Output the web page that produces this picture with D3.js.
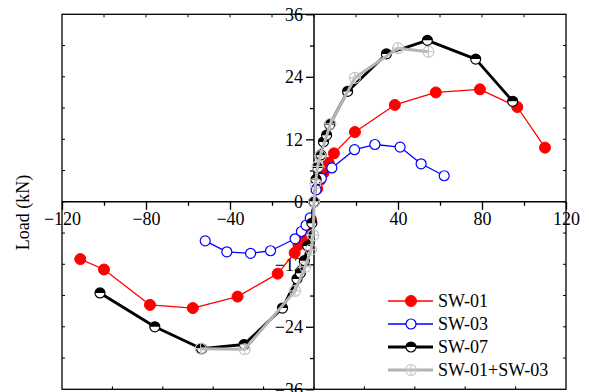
<!DOCTYPE html>
<html><head><meta charset="utf-8">
<script src="https://cdn.jsdelivr.net/npm/d3@7"></script>
<style>html,body{margin:0;padding:0;background:#fff;}svg{display:block;}</style>
</head><body>
<svg id="chart" width="589" height="392"></svg>
<script>
// ---- data ----
const sw01Disp = [-111.3,-100,-78.1,-57.7,-36.4,-17.3,-9.2,-7.4,-5.9,-3.7,-1.4,0,1.5,3,4.5,7,9.5,19.5,38.5,58,79,96.8,110];
const sw01Load = [-11,-13,-19.8,-20.4,-18.2,-13.8,-9.8,-8.3,-7.1,-5.1,-3.4,0,2.5,4.2,5.5,7.5,9.3,13.4,18.6,21,21.6,18.2,10.4];
const sw03Disp = [-51.8,-41.5,-30.2,-20.7,-9,-6,-3.8,-1.8,0,1,3.5,8.5,19.3,29,41,51,62];
const sw03Load = [-7.5,-9.6,-9.9,-9.4,-7.1,-5.7,-4.5,-3.1,0,2.3,4.5,6.5,10,11,10.5,7.3,5];
const sw07Disp = [-101.9,-75.8,-53.5,-33.3,-15,-8.1,-6.5,-4.6,-3,-1,0,1,1.8,3.3,4.5,6,7.5,16,34.5,54,77,94.6];
const sw07Load = [-17.5,-24,-28.2,-27.4,-20.4,-14.8,-13.7,-11.3,-8.5,-4.1,0,4.3,6.5,9,11.5,12.8,14.8,21.2,28.4,31,27.4,19.3];
const sumDisp = [-54,-33,-9,-4.2,-1.4,-0.4,0,0.7,1.7,3,7.8,19.5,40,54.5];
const sumLoad = [-28.2,-28.3,-17.1,-12.5,-9.2,-6.4,0,3.5,6.8,8.8,15,23.8,29.5,28.8];
const seriesNames = ["SW-01","SW-03","SW-07","SW-01+SW-03"];
const xMajorTicks = [-120,-80,-40,40,80,120];
const xMinorTicks = [-100,-60,-20,20,60,100];
const yMajorTicks = [-36,-24,-12,0,12,24,36];
const yMinorTicks = [-30,-18,-6,6,18,30];
const yTitle = "Load (kN)";

// ---- layout ----
const svg = d3.select("#chart");
const x = d3.scaleLinear().domain([-120,120]).range([62,566]);
const y = d3.scaleLinear().domain([-36,36]).range([389.3,14.3]);
const font = "'Liberation Serif','Times New Roman',serif";

// frame
svg.append("rect").attr("x",x(-120)).attr("y",y(36)).attr("width",x(120)-x(-120)).attr("height",y(-36)-y(36))
  .attr("fill","none").attr("stroke","#000").attr("stroke-width",1.3);

// frame inner ticks
const fr = svg.append("g").attr("stroke","#000").attr("stroke-width",1);
d3.range(-100,120,20).forEach(v=>{ fr.append("line").attr("x1",x(v)).attr("x2",x(v)).attr("y1",y(36)).attr("y2",y(36)+3); });
d3.range(-96,120,24).forEach(v=>{ fr.append("line").attr("x1",x(v)).attr("x2",x(v)).attr("y1",y(-36)).attr("y2",y(-36)-3); });
d3.range(-30,36,6).forEach(v=>{
  fr.append("line").attr("x1",x(120)).attr("x2",x(120)-3).attr("y1",y(v)).attr("y2",y(v));
  fr.append("line").attr("x1",x(-120)).attr("x2",x(-120)+3).attr("y1",y(v)).attr("y2",y(v));
});

// x axis at y=0
const gx = svg.append("g").attr("transform",`translate(0,${y(0)})`)
  .call(d3.axisBottom(x).tickValues(xMajorTicks).tickSize(8).tickSizeOuter(0).tickFormat(d3.format("d")));
gx.select(".domain").attr("stroke-width",1.5).attr("d",`M${x(-120)},0H${x(120)}`);
gx.selectAll(".tick line").attr("stroke-width",1.3);
gx.selectAll(".tick text").attr("font-family",font).attr("font-size",18).attr("fill","#000").attr("y",10).attr("dy","0.71em");
const gxm = svg.append("g").attr("transform",`translate(0,${y(0)})`)
  .call(d3.axisBottom(x).tickValues(xMinorTicks).tickSize(4).tickFormat(""));
gxm.select(".domain").remove();
gxm.selectAll(".tick line").attr("stroke-width",1.3);

// y axis at x=0
const gy = svg.append("g").attr("transform",`translate(${x(0)},0)`)
  .call(d3.axisLeft(y).tickValues(yMajorTicks).tickSize(8).tickSizeOuter(0).tickFormat(d3.format("d")));
gy.select(".domain").attr("stroke-width",1.5).attr("d",`M0,${y(36)}V${y(-36)}`);
gy.selectAll(".tick line").attr("stroke-width",1.3);
gy.selectAll(".tick text").attr("font-family",font).attr("font-size",18).attr("fill","#000").attr("x",-11).attr("dy","0.34em");
const gym = svg.append("g").attr("transform",`translate(${x(0)},0)`)
  .call(d3.axisLeft(y).tickValues(yMinorTicks).tickSize(4).tickFormat(""));
gym.select(".domain").remove();
gym.selectAll(".tick line").attr("stroke-width",1.3);

// y title
svg.append("text").attr("transform","translate(29,212.5) rotate(-90)").attr("text-anchor","middle")
  .attr("font-family",font).attr("font-size",18).attr("fill","#000").text(yTitle);

// ---- series ----
const series = [
  {name:seriesNames[0], xs:sw01Disp, ys:sw01Load, color:"#ff0000", lw:1.3, marker:"filled", r:5.5},
  {name:seriesNames[1], xs:sw03Disp, ys:sw03Load, color:"#0000ff", lw:1.3, marker:"open", r:5},
  {name:seriesNames[2], xs:sw07Disp, ys:sw07Load, color:"#000000", lw:2.8, marker:"half", r:5},
  {name:seriesNames[3], xs:sumDisp, ys:sumLoad, color:"#b4b4b4", lw:3, marker:"cross", r:5.5}
];
const line = d3.line().x(d=>x(d[0])).y(d=>y(d[1]));

function drawMarker(g, s, px, py){
  const m = g.append("g").attr("transform",`translate(${px},${py})`);
  if(s.marker==="filled"){
    m.append("circle").attr("r",s.r).attr("fill",s.color).attr("stroke",s.color).attr("stroke-width",1);
  } else if(s.marker==="open"){
    m.append("circle").attr("r",s.r).attr("fill","#fff").attr("stroke",s.color).attr("stroke-width",1.2);
  } else if(s.marker==="half"){
    m.append("circle").attr("r",s.r).attr("fill","#fff").attr("stroke","#000").attr("stroke-width",1.2);
    m.append("path").attr("d",`M${-s.r},0A${s.r},${s.r} 0 0 1 ${s.r},0Z`).attr("fill","#000");
  } else {
    m.append("circle").attr("r",s.r).attr("fill","none").attr("stroke","#c4c4c4").attr("stroke-width",1.1);
    m.append("path").attr("d",`M${-s.r},0H${s.r}M0,${-s.r}V${s.r}`).attr("stroke","#c4c4c4").attr("stroke-width",1.1);
  }
}

series.forEach(s=>{
  const pts = s.xs.map((v,i)=>[v,s.ys[i]]);
  const g = svg.append("g");
  g.append("path").datum(pts).attr("d",line).attr("fill","none").attr("stroke",s.color)
    .attr("stroke-width",s.lw).attr("stroke-linejoin","round");
  pts.forEach(p=>drawMarker(g,s,x(p[0]),y(p[1])));
});

// ---- legend ----
const legY = [301,324,347,370];
series.forEach((s,i)=>{
  const g = svg.append("g");
  g.append("line").attr("x1",388).attr("x2",433).attr("y1",legY[i]).attr("y2",legY[i])
    .attr("stroke",s.color).attr("stroke-width",s.lw);
  drawMarker(g,s,411,legY[i]);
  g.append("text").attr("x",438).attr("y",legY[i]).attr("dy","0.35em").attr("font-family",font)
    .attr("font-size",18).attr("fill","#000").text(s.name);
});
</script>
</body></html>
